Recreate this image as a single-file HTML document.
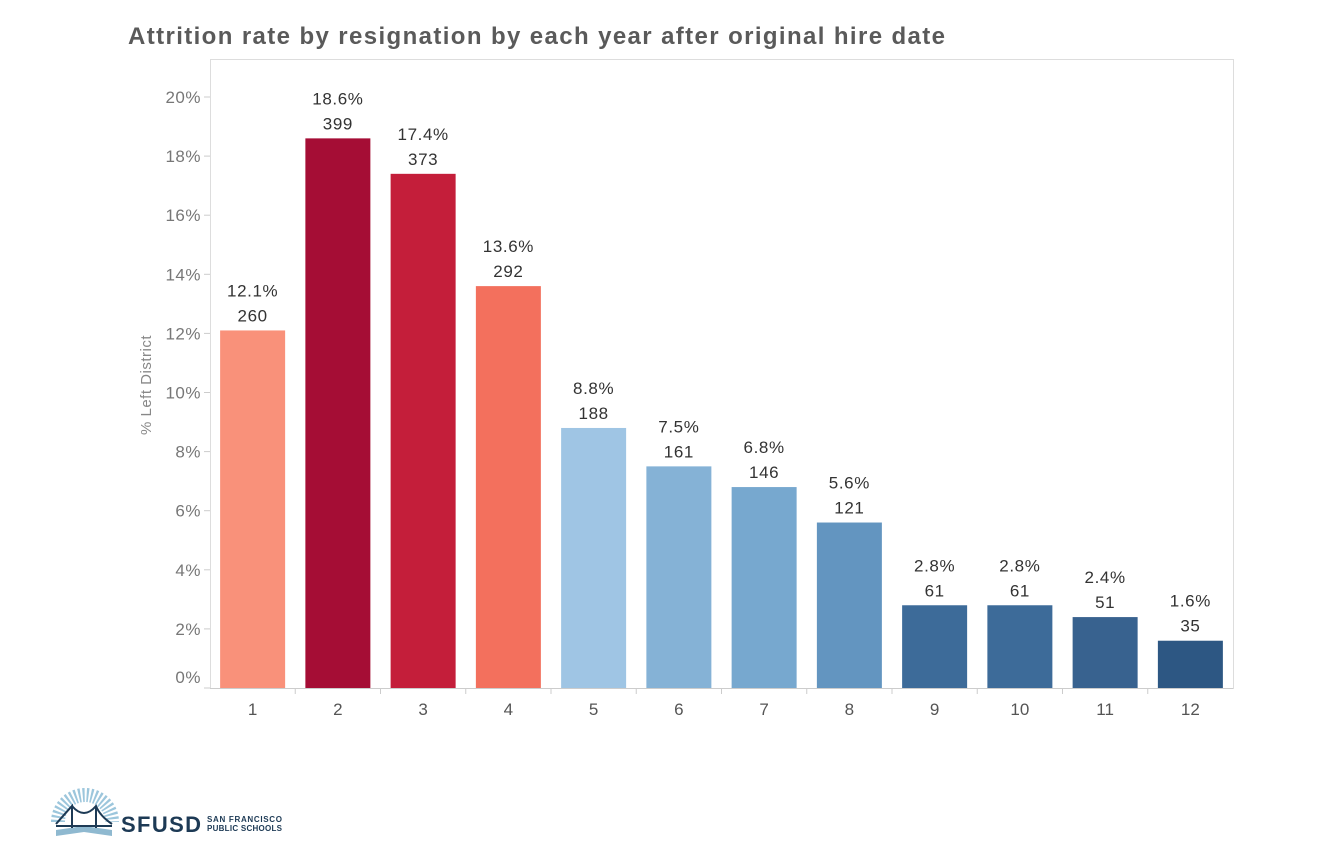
<!DOCTYPE html>
<html><head><meta charset="utf-8"><style>
body{margin:0;width:1330px;height:847px;background:#fff;font-family:"Liberation Sans",sans-serif;overflow:hidden}
</style></head><body>
<svg id="c" width="1330" height="847">
<text x="128" y="44" font-size="24" fill="#5a5a5a" font-weight="bold" textLength="817" lengthAdjust="spacing">Attrition rate by resignation by each year after original hire date</text>
<rect x="210.5" y="59.5" width="1023" height="629" fill="none" stroke="#ddd"/>
<text transform="translate(151,385) rotate(-90)" text-anchor="middle" font-size="15" fill="#888" letter-spacing="0.5">% Left District</text>
<g id="g"></g>
<g>
<path d="M58 822 A27 27 0 0 1 112 822" fill="none" stroke="#9cc6dc" stroke-width="14" stroke-dasharray="2 2"/>
<path d="M56 830 L84 826 L112 830 L112 836 L84 832 L56 836Z" fill="#8fb9d0"/>
<path d="M56 824 Q70 808 72 806 L72 828 M96 806 L96 828 M72 806 Q84 820 96 806 Q100 816 112 824 M56 826 L112 826" stroke="#1d3a55" stroke-width="2" fill="none"/>
<text x="121" y="832" font-size="22" font-weight="bold" fill="#1d3a55" textLength="80">SFUSD</text>
<text x="207" y="822" font-size="8" font-weight="bold" fill="#1d3a55" textLength="75">SAN FRANCISCO</text>
<text x="207" y="831" font-size="8" font-weight="bold" fill="#1d3a55" textLength="75">PUBLIC SCHOOLS</text>
</g>
</svg>
<script>
const categories=["1","2","3","4","5","6","7","8","9","10","11","12"];
const rates=[12.1,18.6,17.4,13.6,8.8,7.5,6.8,5.6,2.8,2.8,2.4,1.6];
const counts=[260,399,373,292,188,161,146,121,61,61,51,35];
const colors=["#f9917a","#a50d35","#c41e3a","#f3705d","#9fc5e4","#85b2d6","#77a8cf","#6395c0","#3d6b99","#3d6b99","#38628f","#2d5783"];
const yTicks=[0,2,4,6,8,10,12,14,16,18,20];
const NS="http://www.w3.org/2000/svg";
const g=document.getElementById('g');
const x0=210,x1=1233,yBase=688,yTop=97;
const y=v=>yBase-(v/20)*(yBase-yTop);
const band=(x1-x0)/categories.length;
const xc=i=>x0+band*(i+0.5);
function mk(t,a,txt){const e=document.createElementNS(NS,t);for(const k in a)e.setAttribute(k,a[k]);if(txt!==undefined)e.textContent=txt;g.appendChild(e);return e;}
yTicks.forEach(t=>{
 const yy=y(t);
 const tk=mk('line',{x1:204,x2:210,y1:yy,y2:yy,stroke:'#ccc'});
 
 
 const lb=mk('text',{x:201,y:(t===0?yy-5:yy+6),'text-anchor':'end','font-size':17,fill:'#777','letter-spacing':'0.5'},t+'%');
 
 
});
mk('line',{x1:x0,x2:x1,y1:yBase+0.5,y2:yBase+0.5,stroke:'#ccc'});
categories.forEach((c,i)=>{
 const top=y(rates[i]);
 const b=mk('rect',{x:xc(i)-32.5,y:top,width:65,height:yBase-top,fill:colors[i]});
 
 
 const p=mk('text',{x:xc(i),y:top-34,'text-anchor':'middle','font-size':17,fill:'#333','letter-spacing':'0.6'},rates[i].toFixed(1)+'%');
 
 
 const n=mk('text',{x:xc(i),y:top-9,'text-anchor':'middle','font-size':17,fill:'#333','letter-spacing':'0.6'},counts[i]);
 
 
 const xl=mk('text',{x:xc(i),y:715,'text-anchor':'middle','font-size':17,fill:'#555'},c);
 
 
 if(i>0){const s=mk('line',{x1:x0+band*i,x2:x0+band*i,y1:688,y2:694,stroke:'#ccc'});
 
 }
});
</script>
</body></html>
